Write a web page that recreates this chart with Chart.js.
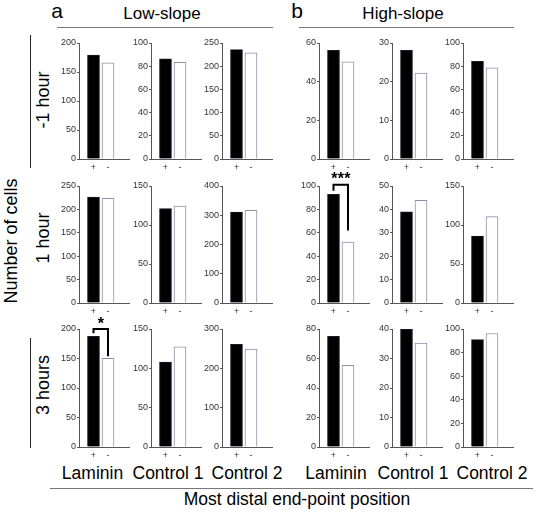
<!DOCTYPE html>
<html>
<head>
<meta charset="utf-8">
<script src="https://cdn.jsdelivr.net/npm/chart.js@4.4.1/dist/chart.umd.min.js"></script>
<style>
  html, body { margin: 0; padding: 0; background: #fff; }
  #wrap { position: relative; width: 537px; height: 513px; overflow: hidden; font-family: "Liberation Sans", Arial, Helvetica, sans-serif; color: #000; }
  .t { position: absolute; white-space: nowrap; transform: translate(-50%, -50%); line-height: 1; }
  .r { position: absolute; white-space: nowrap; transform: translate(-50%, -50%) rotate(-90deg); line-height: 1; }
  .hl { position: absolute; height: 1px; background: #777; }
  .vl { position: absolute; width: 1px; background: #222; }
  canvas { position: absolute; }
</style>
</head>
<body>
<div id="wrap"></div>
<script>
// ---------------- data ----------------
const groups = ['Low-slope', 'High-slope'];
const groupLetters = ['a', 'b'];
const rowLabels = ['-1 hour', '1 hour', '3 hours'];
const categories = ['Laminin', 'Control 1', 'Control 2'];
const tickLabels = ['+', '-'];

// values per row (rows: -1 hour, 1 hour, 3 hours), per category
const lowPlus   = [[179, 86.3, 235.7], [226.5, 120.9, 311], [187.4, 108, 261]];
const lowMinus  = [[166, 83.4, 228.6], [223.6, 124.4, 316.8], [150.4, 127.4, 249]];
const highPlus  = [[56.2, 28.1, 84.3], [92.9, 39.0, 85.9], [75, 40, 91]];
const highMinus = [[50.2, 22.2, 78.6], [52.1, 43.9, 110.7], [55.3, 35.2, 96.2]];

// y-axis ranges and tick steps
const lowMax   = [[200, 100, 250], [250, 150, 400], [200, 150, 300]];
const lowStep  = [[50, 20, 50], [50, 50, 100], [50, 50, 100]];
const highMax  = [[60, 30, 100], [100, 50, 150], [80, 40, 100]];
const highStep = [[20, 10, 20], [20, 10, 50], [20, 10, 20]];

// significance brackets: [group, row, col, legEnd(+), legEnd(-), bracketY, starY, label]
const sigMarks = [
  [1, 1, 0, 96, 62, 101, 109, '***'],
  [0, 2, 0, 193, 154, 200, 216, '*']
];

// ---------------- layout ----------------
const wrap = document.getElementById('wrap');
const colX = [79, 151, 222, 319, 392, 463];
const rowTop = [43, 186, 329];
const rowBottom = [159, 303, 447];
const plotW = 50;
const padL = 32, padT = 26, padR = 4, padB = 20;
const FONT = '"Liberation Sans", Arial, Helvetica, sans-serif';

function addText(cls, txt, x, y, size, extra) {
  const d = document.createElement('div');
  d.className = cls;
  d.textContent = txt;
  d.style.left = x + 'px';
  d.style.top = y + 'px';
  d.style.fontSize = size + 'px';
  if (extra) Object.assign(d.style, extra);
  wrap.appendChild(d);
}
function addLine(cls, x, y, w, h) {
  const d = document.createElement('div');
  d.className = cls;
  d.style.left = x + 'px'; d.style.top = y + 'px';
  if (w) d.style.width = w + 'px';
  if (h) d.style.height = h + 'px';
  wrap.appendChild(d);
}

// headings
addText('t', groupLetters[0], 57, 10, 21);
addText('t', groupLetters[1], 297, 10, 21);
addText('t', groups[0], 162, 13, 17);
addText('t', groups[1], 403, 13, 17);
addLine('hl', 57, 27, 216, 0);
addLine('hl', 299, 27, 215, 0);

// left labels
addText('r', 'Number of cells', 11, 241, 18);
addLine('vl', 30, 35, 0, 133);
addLine('vl', 30, 338, 0, 110);
const rowLabelY = [100, 238, 385];
rowLabels.forEach((l, i) => addText('r', l, 43, rowLabelY[i], 18));

// bottom labels
const catX = [92.5, 168, 247, 336, 413, 492];
for (let g = 0; g < 2; g++) {
  categories.forEach((c, i) => addText('t', c, catX[g * 3 + i], 474, 17.5));
}
addLine('hl', 50, 488, 483, 0);
addText('t', 'Most distal end-point position', 297, 500, 17.5);

// ---------------- charts ----------------
const sigPlugin = {
  id: 'sig',
  afterDraw(chart, args, opts) {
    const m = opts.mark;
    if (!m) return;
    const ctx = chart.ctx, xs = chart.scales.x, ys = chart.scales.y;
    const x1 = xs.getPixelForValue(1), x2 = xs.getPixelForValue(2);
    const yb = ys.getPixelForValue(m[5]);
    ctx.save();
    ctx.strokeStyle = '#000';
    ctx.lineWidth = 2;
    ctx.beginPath();
    ctx.moveTo(x1, ys.getPixelForValue(m[3]));
    ctx.lineTo(x1, yb);
    ctx.lineTo(x2, yb);
    ctx.lineTo(x2, ys.getPixelForValue(m[4]));
    ctx.stroke();
    ctx.fillStyle = '#000';
    ctx.font = 'bold 16px ' + FONT;
    ctx.textAlign = 'center';
    ctx.textBaseline = 'alphabetic';
    const cx = (x1 + x2) / 2, cy = ys.getPixelForValue(m[6]) + 9;
    const n = m[7].length, sp = 6.5;
    for (let i = 0; i < n; i++) {
      ctx.fillText('*', cx + (i - (n - 1) / 2) * sp, cy);
    }
    ctx.restore();
  }
};

function makeChart(g, r, c) {
  const plus = g === 0 ? lowPlus : highPlus;
  const minus = g === 0 ? lowMinus : highMinus;
  const ymax = (g === 0 ? lowMax : highMax)[r][c];
  const ystep = (g === 0 ? lowStep : highStep)[r][c];
  const ax = colX[g * 3 + c];
  const cv = document.createElement('canvas');
  const W = padL + plotW + padR;
  const H = padT + (rowBottom[r] - rowTop[r]) + padB;
  cv.width = W; cv.height = H;
  cv.style.left = (ax - padL) + 'px';
  cv.style.top = (rowTop[r] - padT) + 'px';
  cv.style.width = W + 'px'; cv.style.height = H + 'px';
  wrap.appendChild(cv);
  const mark = sigMarks.find(m => m[0] === g && m[1] === r && m[2] === c);
  new Chart(cv, {
    type: 'bar',
    data: {
      datasets: [{
        data: [{ x: 1, y: plus[r][c] }, { x: 2, y: minus[r][c] }],
        backgroundColor: ['#000000', '#ffffff'],
        borderColor: ['#1a1a2a', '#8d90aa'],
        borderWidth: 1,
        barThickness: 12
      }]
    },
    options: {
      responsive: false,
      animation: false,
      devicePixelRatio: 1,
      layout: { padding: { top: padT, right: padR, left: 0, bottom: 0 } },
      plugins: { legend: { display: false }, tooltip: { enabled: false }, sig: { mark: mark } },
      scales: {
        x: {
          type: 'linear', min: 0, max: 3.45, offset: false,
          afterBuildTicks: s => { s.ticks = [{ value: 1 }, { value: 2 }]; },
          afterFit: s => { s.height = padB; },
          grid: { display: false, drawTicks: false },
          border: { display: true, color: '#555', width: 1 },
          ticks: {
            padding: 3, color: '#333', font: { size: 9, family: FONT },
            autoSkip: false, maxRotation: 0,
            callback: v => tickLabels[v - 1]
          }
        },
        y: {
          min: 0, max: ymax,
          afterFit: s => { s.width = padL; },
          grid: { drawOnChartArea: false, drawTicks: true, tickLength: 2, color: '#555' },
          border: { display: true, color: '#555', width: 1 },
          ticks: { stepSize: ystep, padding: 1, color: '#333', font: { size: 9, family: FONT } }
        }
      }
    },
    plugins: [sigPlugin]
  });
}

for (let g = 0; g < 2; g++)
  for (let r = 0; r < 3; r++)
    for (let c = 0; c < 3; c++)
      makeChart(g, r, c);
</script>
</body>
</html>
